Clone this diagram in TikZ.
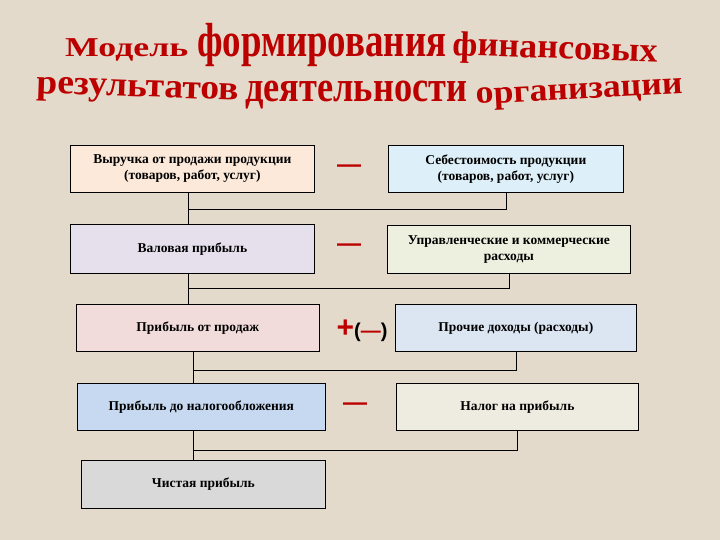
\documentclass[tikz,border=0pt]{standalone}
\usepackage{fontspec}
\setmainfont{Liberation Serif}
\newfontfamily\opfont{Liberation Sans}
\usepackage{graphicx}
\usetikzlibrary{positioning}

\definecolor{bgpaper}{HTML}{E3DACB}
\definecolor{titlered}{HTML}{BC0000}
\definecolor{revfill}{HTML}{FCE9DA}
\definecolor{costfill}{HTML}{DDEFF8}
\definecolor{grossfill}{HTML}{E5E0EC}
\definecolor{adminfill}{HTML}{EEF0DF}
\definecolor{salesfill}{HTML}{F2DCDB}
\definecolor{otherfill}{HTML}{DCE6F2}
\definecolor{pretaxfill}{HTML}{C6D9F1}
\definecolor{taxfill}{HTML}{EEECE1}
\definecolor{netfill}{HTML}{D9D9D9}

% title word: width, x-height, letters
\newcommand{\tword}[3]{\resizebox{#1}{#2}{\raisebox{0pt}[0.46em][0pt]{#3}}}

\begin{document}
\begin{tikzpicture}[x=1pt, y=-1pt,
  box/.style={draw, line width=0.7pt, anchor=north west, align=center, inner sep=2pt,
    font=\bfseries\fontsize{13.5}{16}\selectfont},
  word/.style={anchor=base west, inner sep=0pt, text=titlered, font=\bfseries},
  op/.style={inner sep=0pt, text=titlered, font=\opfont\bfseries\fontsize{24}{24}\selectfont},
  link/.style={line width=0.7pt}]
\fill[bgpaper] (0,0) rectangle (720,540);
\useasboundingbox (0,0) rectangle (720,540);

% title
\node[word] (w1) at (65,57)
  {\resizebox{123pt}{18pt}{\raisebox{0pt}[0.66em][0pt]{Модель}}};
\node[word] (w2) at (197,57) {\tword{249pt}{22pt}{формирования}};
\node[word, rotate=-2] (w3) at (452,55) {\tword{205pt}{16pt}{финансовых}};
\node[word, rotate=-2] (w4) at (36,93) {\tword{202pt}{16pt}{результатов}};
\node[word] (w5) at (245,102) {\tword{222pt}{20pt}{деятельности}};
\node[word, rotate=3] (w6) at (476,104) {\tword{207pt}{15pt}{организации}};

% boxes
\node[box, fill=revfill, minimum width=244pt, minimum height=47pt] (revenue) at (70,145)
  {Выручка от продажи продукции\\(товаров, работ, услуг)};
\node[box, fill=costfill, minimum width=235pt, minimum height=47pt] (cost) at (388,145)
  {Себестоимость продукции\\(товаров, работ, услуг)};
\node[box, fill=grossfill, minimum width=244pt, minimum height=49pt] (gross) at (70,224)
  {Валовая прибыль};
\node[box, fill=adminfill, minimum width=243pt, minimum height=48pt] (admin) at (387,225)
  {Управленческие и коммерческие\\расходы};
\node[box, fill=salesfill, minimum width=243pt, minimum height=47pt] (sales) at (76,304)
  {Прибыль от продаж};
\node[box, fill=otherfill, minimum width=241pt, minimum height=47pt] (other) at (395,304)
  {Прочие доходы (расходы)};
\node[box, fill=pretaxfill, minimum width=248pt, minimum height=47pt] (pretax) at (77,383)
  {Прибыль до налогообложения};
\node[box, fill=taxfill, minimum width=242pt, minimum height=47pt] (tax) at (396,383)
  {Налог на прибыль};
\node[box, fill=netfill, minimum width=244pt, minimum height=48pt] (net) at (81,460)
  {Чистая прибыль};

% signs
\node[op] (m1) at (349,169) {—};
\node[op] (m2) at (349,248) {—};
\node[op, text=black] (m3) at (362,331)
  {\textcolor{titlered}{\fontsize{30}{30}\selectfont +}\fontsize{20}{20}\selectfont(\textcolor{titlered}{—})};
\node[op] (m4) at (355,407) {—};

% joins
\coordinate (j1) at (188,209);
\coordinate (j2) at (188,288);
\coordinate (j3) at (193,370);
\coordinate (j4) at (193,450);
\draw[link] (revenue.south -| j1) -- (gross.north -| j1);
\draw[link] (cost.south) |- (j1);
\draw[link] (gross.south -| j2) -- (sales.north -| j2);
\draw[link] (admin.south) |- (j2);
\draw[link] (sales.south -| j3) -- (pretax.north -| j3);
\draw[link] (other.south) |- (j3);
\draw[link] (pretax.south -| j4) -- (net.north -| j4);
\draw[link] (tax.south) |- (j4);
\end{tikzpicture}
\end{document}
